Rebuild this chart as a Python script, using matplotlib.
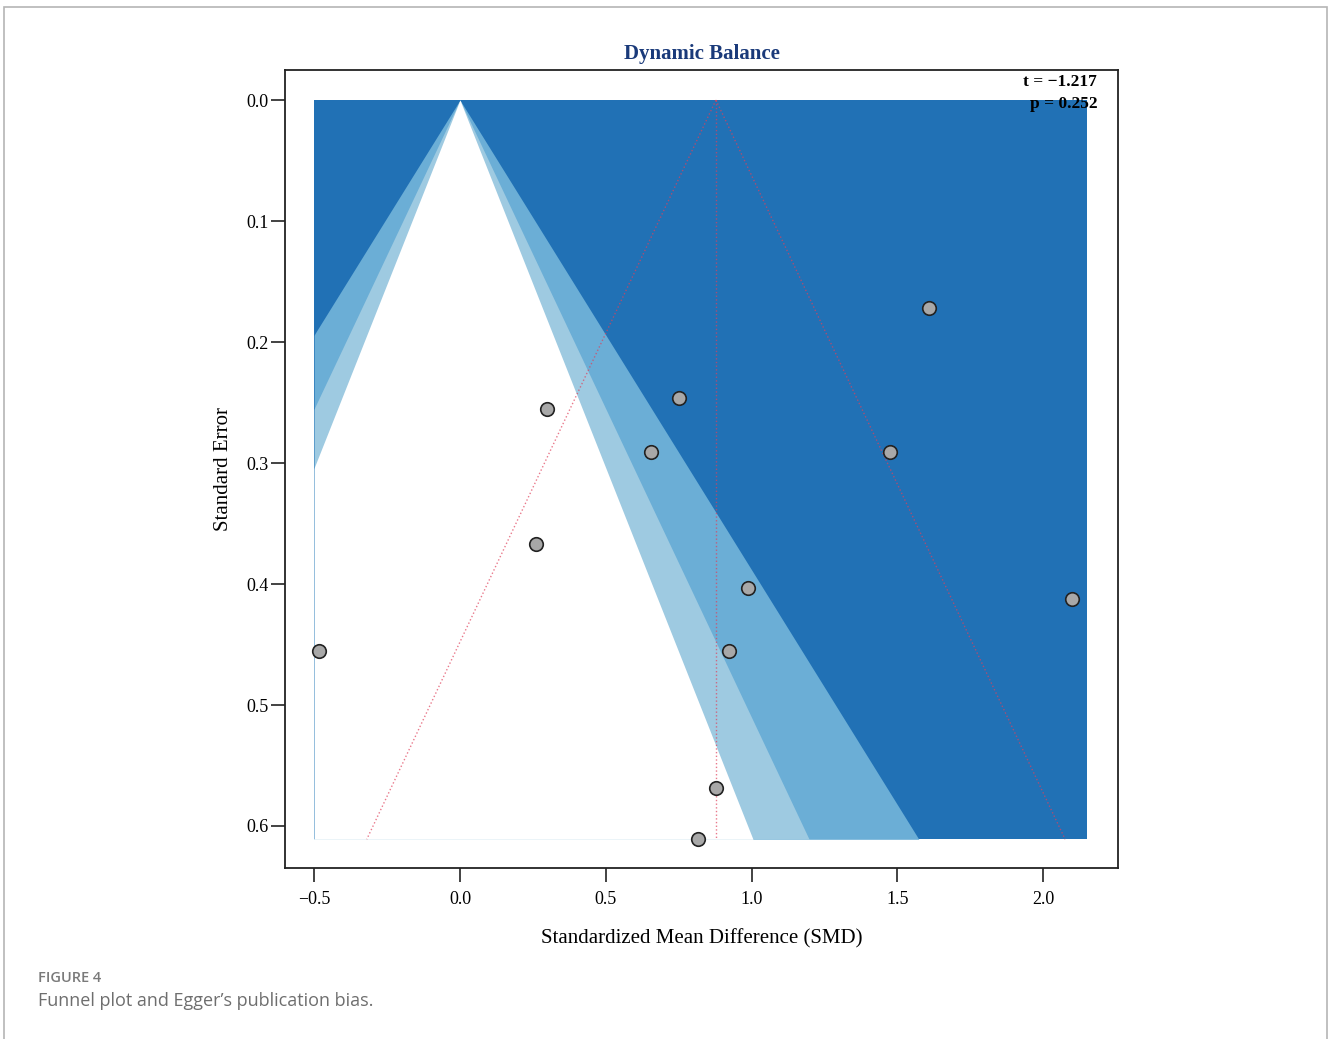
import numpy as np
import matplotlib
matplotlib.use("Agg")
import matplotlib.pyplot as plt
from matplotlib.patches import Rectangle

# Study estimates (SMD) and their standard errors
smd = [1.609, 0.298, 0.751, 0.655, 1.475, 0.261, 0.988, 2.099, -0.484, 0.923, 0.878, 0.816]
se = [0.172, 0.255, 0.246, 0.291, 0.291, 0.367, 0.403, 0.412, 0.455, 0.455, 0.569, 0.611]
pooled = 0.878
egger_t = "\u22121.217"
egger_p = "0.252"
x_ticks = [-0.5, 0.0, 0.5, 1.0, 1.5, 2.0]
y_ticks = [0.0, 0.1, 0.2, 0.3, 0.4, 0.5, 0.6]

# Contour levels (two-sided z for p = 0.01, 0.05, 0.10)
z_levels = [2.576, 1.96, 1.645]
contour_colors = ["#6baed6", "#9ecae1", "white"]
dark_fill = "#2171b5"
x_lo, x_hi = -0.5, 2.15

serif = ["Liberation Serif", "DejaVu Serif"]

fig = plt.figure(figsize=(13.28, 10.39), dpi=100)
ax = fig.add_axes([0.2146, 0.1646, 0.6273, 0.768])

se_max = max(se)
se_grid = np.linspace(0, se_max, 400)
ax.fill_betweenx([0, se_max], x_lo, x_hi, color=dark_fill, lw=0, zorder=1)
for z, c in zip(z_levels, contour_colors):
    left = np.clip(-z * se_grid, x_lo, x_hi)
    right = np.clip(z * se_grid, x_lo, x_hi)
    ax.fill_betweenx(se_grid, left, right, color=c, lw=0, zorder=2)

# Pseudo 95% confidence funnel around the pooled estimate
line_kw = dict(color="#e0405a", alpha=0.7, ls=":", lw=1.0, zorder=3)
ax.plot([pooled, pooled], [0, se_max], **line_kw)
ax.plot([pooled, pooled - 1.96 * se_max], [0, se_max], **line_kw)
ax.plot([pooled, pooled + 1.96 * se_max], [0, se_max], **line_kw)

ax.scatter(smd, se, s=95, facecolor="#a8a8a8", edgecolor="#222222", lw=1.2, zorder=5)

ax.set_xlim(-0.6, 2.257)
ax.set_ylim(0.6347, -0.0248)
ax.set_xticks(x_ticks)
ax.set_xticklabels([f"{v:.1f}".replace("-", "\u2212") for v in x_ticks], family=serif, fontsize=13)
ax.set_yticks(y_ticks)
ax.set_yticklabels([f"{v:.1f}" for v in y_ticks], family=serif, fontsize=13)
ax.tick_params(direction="out", length=10, width=1.2, color="#222222")
ax.tick_params(axis="x", pad=6.5)
ax.tick_params(axis="y", pad=2)
for sp in ax.spines.values():
    sp.set_linewidth(1.3)
    sp.set_color("#222222")

ax.set_xlabel("Standardized Mean Difference (SMD)", family=serif, fontsize=15, labelpad=15)
ax.set_ylabel("Standard Error", family=serif, fontsize=15, labelpad=9)
ax.set_title("Dynamic Balance", family=serif, fontsize=15, fontweight="bold",
             color="#1a3a7a", pad=8)

ax.text(0.975, 0.995, f"t = {egger_t}", transform=ax.transAxes, ha="right", va="top",
        family=serif, fontsize=12.5, fontweight="bold", zorder=6)
ax.text(0.975, 0.968, f"p = {egger_p}", transform=ax.transAxes, ha="right", va="top",
        family=serif, fontsize=12.5, fontweight="bold", zorder=6)

# Page frame and caption
fig.patches.append(Rectangle((4 / 1328, -0.05), 1323 / 1328, 1.05 - 7 / 1039,
                             transform=fig.transFigure, fill=False,
                             edgecolor="#b5b5b5", lw=1.2))
fig.text(38 / 1328, 1 - 978 / 1039, "FIGURE 4", family=["Open Sans", "DejaVu Sans"],
         fontsize=10.5, fontweight="semibold", color="#7a7a7a", va="center")
fig.text(38 / 1328, 1 - 1001 / 1039, "Funnel plot and Egger\u2019s publication bias.",
         family=["Open Sans", "DejaVu Sans"], fontsize=13, color="#6e6e6e", va="center")

fig.savefig("out.png", dpi=100)
